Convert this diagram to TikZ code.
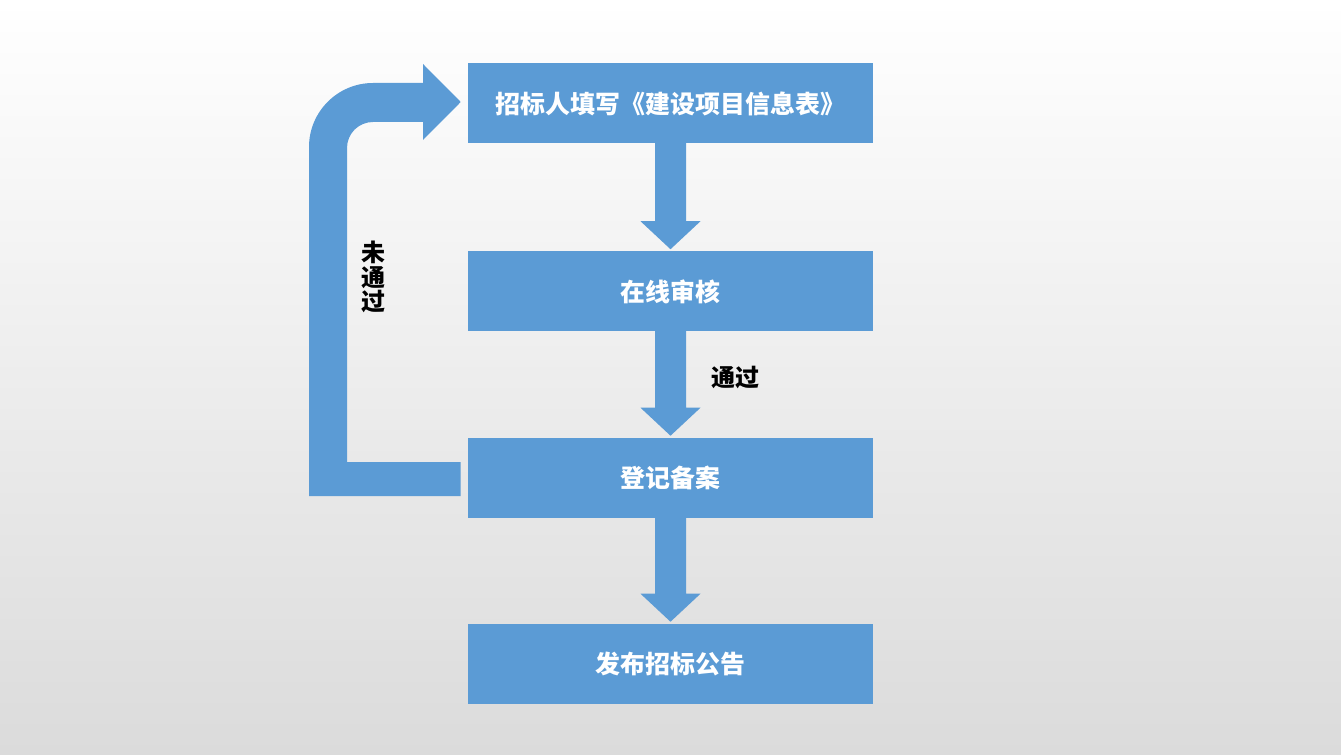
\documentclass[tikz,border=0pt]{standalone}
\usepackage{fontspec}
\newfontfamily\cjk{Noto Sans CJK SC}
\usetikzlibrary{calc}
\definecolor{boxblue}{RGB}{91,155,213}
\definecolor{bgmid}{RGB}{244,244,244}
\definecolor{bgbot}{RGB}{219,219,219}
\newcommand\dnarrow[2]{%
  \fill[arrowfill] ($(#1.south)+(-15.5,-1)$) -- ($(#2.north)+(-15.5,-30)$) -- ($(#2.north)+(-30,-30)$)
    -- ($(#2.north)+(0,-2)$) -- ($(#2.north)+(30,-30)$) -- ($(#2.north)+(15.5,-30)$)
    -- ($(#1.south)+(15.5,-1)$) -- cycle;}
\begin{document}
\begin{tikzpicture}[x=0.75pt,y=-0.75pt,
  box/.style={fill=boxblue, minimum width=303.75pt, minimum height=60pt, inner sep=0pt,
    text=white, font=\cjk\bfseries\fontsize{18.7}{22}\selectfont},
  lbl/.style={text=black, font=\cjk\bfseries\fontsize{18}{18.4}\selectfont, inner sep=0pt},
  arrowfill/.style={fill=boxblue}]
\shade[top color=white, middle color=bgmid, bottom color=bgbot] (0,0) rectangle (1341,755);
\useasboundingbox (0,0) rectangle (1341,755);

\node[box] (b1) at (670.5,103.5) {招标人填写《建设项目信息表》};
\node[box] (b2) at (670.5,291.5) {在线审核};
\node[box] (b3) at (670.5,478) {登记备案};
\node[box] (b4) at (670.5,664) {发布招标公告};

\dnarrow{b1}{b2}
\dnarrow{b2}{b3}
\dnarrow{b3}{b4}

\fill[arrowfill] ($(b3.west)+(-7,-16)$) -- (347,462) -- (347,148)
  .. controls (347,133.6) and (358.6,122) .. (373,122)
  -- (423,122) -- (423,140) -- ($(b1.west)+(-7,-1.5)$) -- (423,64) -- (423,83) -- (373,83)
  .. controls (337.7,83) and (309,111.7) .. (309,147)
  -- (309,496) -- ($(b3.west)+(-7,18)$) -- cycle;

\node[lbl] (t1) at (735,378) {通过};
\node[lbl, align=center] (t2) at (373,277) {未\\通\\过};
\end{tikzpicture}
\end{document}
